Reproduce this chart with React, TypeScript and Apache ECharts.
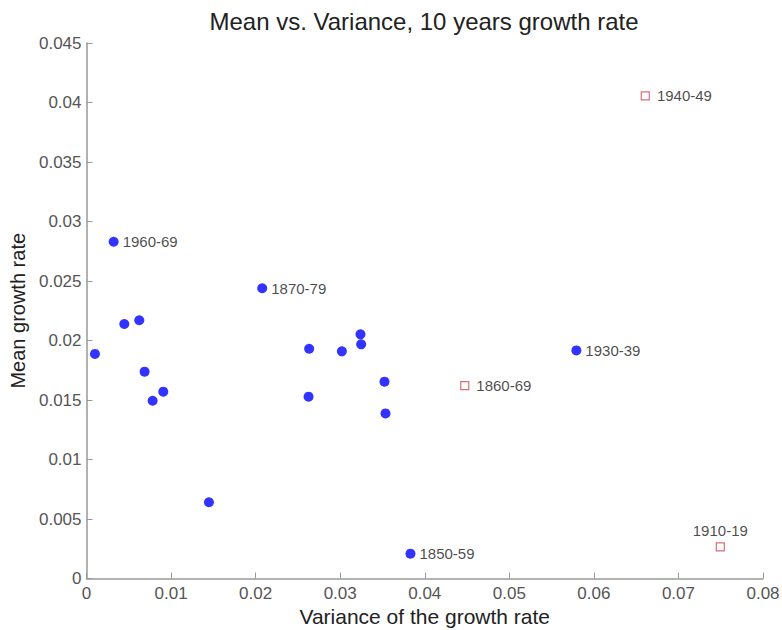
import React, { useEffect, useRef } from "react";
import * as echarts from "echarts";

// Blue points (filled circles)
const blueX = [0.0010, 0.00447, 0.00624, 0.00687, 0.00782, 0.00908, 0.01448, 0.02633, 0.02626, 0.0302, 0.0324, 0.03248, 0.03524, 0.03536, 0.00321, 0.02078, 0.03831, 0.05793];
const blueY = [0.01887, 0.02139, 0.0217, 0.01738, 0.01494, 0.0157, 0.00641, 0.01931, 0.01528, 0.01909, 0.02052, 0.01968, 0.01654, 0.01387, 0.0283, 0.02439, 0.00209, 0.01917];
const blueLabels = ["", "", "", "", "", "", "", "", "", "", "", "", "", "", "1960-69", "1870-79", "1850-59", "1930-39"];

// Red points (hollow squares)
const redX = [0.04473, 0.06608, 0.07495];
const redY = [0.0162, 0.04055, 0.00265];
const redLabels = ["1860-69", "1940-49", "1910-19"];
const redLabelPos = ["right", "right", "top"];

const xTicks = { min: 0, max: 0.08, interval: 0.01 };
const yTicks = { min: 0, max: 0.045, interval: 0.005 };

const FONT = "Liberation Sans, Arial, Helvetica, sans-serif";

export default function App() {
  const ref = useRef<HTMLDivElement>(null);
  useEffect(() => {
    if (!ref.current) return;
    const chart = echarts.init(ref.current, undefined, { renderer: "svg" });
    const labelStyle = { color: "#1a1a1a", fontSize: 15, fontFamily: FONT };
    const blueData = blueX.map((x, i) => ({
      value: [x, blueY[i]],
      label: blueLabels[i]
        ? { show: true, position: "right", distance: 4, formatter: blueLabels[i], ...labelStyle }
        : { show: false },
    }));
    const redData = redX.map((x, i) => ({
      value: [x, redY[i]],
      label: {
        show: true,
        position: redLabelPos[i],
        distance: redLabelPos[i] === "top" ? 4 : 7,
        formatter: redLabels[i],
        ...labelStyle,
      },
    }));
    const fmt = (v: number) => String(+v.toFixed(3));
    chart.setOption({
      animation: false,
      backgroundColor: "#fff",
      title: {
        text: "Mean vs. Variance, 10 years growth rate",
        left: 419,
        textAlign: "center",
        top: 4,
        textStyle: { fontSize: 24, fontWeight: "normal", color: "#222", fontFamily: FONT },
      },
      grid: {
        left: 86.5,
        right: 19,
        top: 43,
        bottom: 51.5,
        containLabel: false,
        outerBoundsMode: "none",
      },
      xAxis: {
        type: "value",
        ...xTicks,
        name: "Variance of the growth rate",
        nameLocation: "middle",
        nameGap: 27,
        nameTextStyle: { fontSize: 21, color: "#222", fontFamily: FONT },
        splitLine: { show: false },
        axisLine: { show: true, lineStyle: { color: "#999", width: 1.5 } },
        axisTick: { show: true, inside: true, length: 6, lineStyle: { color: "#999" } },
        axisLabel: { fontSize: 17, color: "#555", fontFamily: FONT, margin: 6, formatter: fmt },
      },
      yAxis: {
        type: "value",
        ...yTicks,
        name: "Mean growth rate",
        nameLocation: "middle",
        nameGap: 55,
        nameTextStyle: { fontSize: 20, color: "#222", fontFamily: FONT },
        splitLine: { show: false },
        axisLine: { show: true, lineStyle: { color: "#999", width: 1.5 } },
        axisTick: { show: true, inside: true, length: 6, lineStyle: { color: "#999" } },
        axisLabel: { fontSize: 17, color: "#555", fontFamily: FONT, margin: 5, formatter: fmt },
      },
      series: [
        {
          type: "scatter",
          symbol: "circle",
          symbolSize: 10,
          itemStyle: { color: "#0000ff" },
          data: blueData,
        },
        {
          type: "scatter",
          symbol: "rect",
          symbolSize: 8,
          itemStyle: { color: "#fff", borderColor: "#d04a58", borderWidth: 1.2 },
          data: redData,
        },
      ],
    });
    return () => chart.dispose();
  }, []);
  return (
    <div
      ref={ref}
      style={{ position: "absolute", left: 0, top: 0, width: 782, height: 630 }}
    />
  );
}
